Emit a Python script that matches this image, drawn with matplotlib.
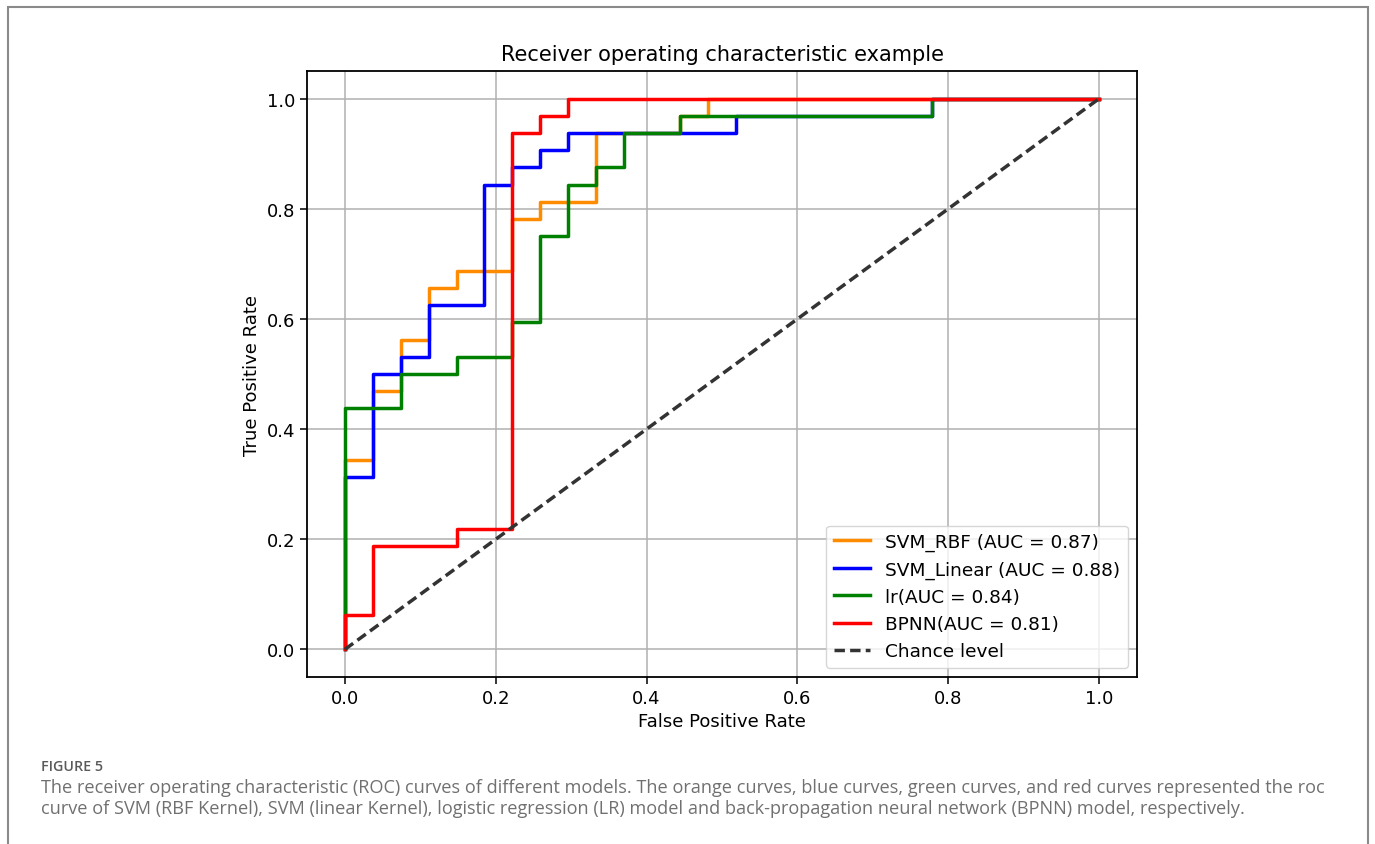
import numpy as np
import matplotlib
matplotlib.use("Agg")
import matplotlib.pyplot as plt
from matplotlib.patches import Rectangle

# ROC step points: FPR in steps of 1/27, TPR in steps of 1/32
n_neg, n_pos = 27, 32

rbf_fp = [0, 0, 1, 1, 2, 2, 3, 3, 4, 4, 6, 6, 7, 7, 9, 9, 12, 12, 13, 13, 27]
rbf_tp = [0, 11, 11, 15, 15, 18, 18, 21, 21, 22, 22, 25, 25, 26, 26, 30, 30, 31, 31, 32, 32]

lin_fp = [0, 0, 1, 1, 2, 2, 3, 3, 5, 5, 6, 6, 7, 7, 8, 8, 14, 14, 21, 21, 27]
lin_tp = [0, 10, 10, 16, 16, 17, 17, 20, 20, 27, 27, 28, 28, 29, 29, 30, 30, 31, 31, 32, 32]

lr_fp = [0, 0, 2, 2, 4, 4, 6, 6, 7, 7, 8, 8, 9, 9, 10, 10, 12, 12, 21, 21, 27]
lr_tp = [0, 14, 14, 16, 16, 17, 17, 19, 19, 24, 24, 27, 27, 28, 28, 30, 30, 31, 31, 32, 32]

bp_fp = [0, 0, 1, 1, 4, 4, 6, 6, 7, 7, 8, 8, 27]
bp_tp = [0, 2, 2, 6, 6, 7, 7, 30, 30, 31, 31, 32, 32]

models = [
    ("SVM_RBF (AUC = 0.87)", rbf_fp, rbf_tp, "darkorange"),
    ("SVM_Linear (AUC = 0.88)", lin_fp, lin_tp, "blue"),
    ("lr(AUC = 0.84)", lr_fp, lr_tp, "green"),
    ("BPNN(AUC = 0.81)", bp_fp, bp_tp, "red"),
]

fig = plt.figure(figsize=(13.75, 8.45), dpi=100)
ax = fig.add_axes([0.2233, 0.1976, 0.6036, 0.7172])

for label, fp, tp, color in models:
    ax.plot(np.array(fp) / n_neg, np.array(tp) / n_pos, color=color, lw=2.5, label=label)

ax.plot([0, 1], [0, 1], color="#333333", lw=2.5, linestyle=(0, (3.0, 1.5)), label="Chance level")

ax.set_xlim(-0.05, 1.05)
ax.set_ylim(-0.05, 1.05)
ax.set_xticks([0.0, 0.2, 0.4, 0.6, 0.8, 1.0])
ax.set_yticks([0.0, 0.2, 0.4, 0.6, 0.8, 1.0])
ax.tick_params(labelsize=13, length=5, width=1.1)
ax.grid(True, color="#b0b0b0", lw=1.1)
for s in ax.spines.values():
    s.set_linewidth(1.3)
ax.set_xlabel("False Positive Rate", fontsize=13)
ax.set_ylabel("True Positive Rate", fontsize=13)
ax.set_title("Receiver operating characteristic example", fontsize=15, pad=8)
ax.legend(loc="lower right", fontsize=13.3, handlelength=2.0)

# outer frame of the figure panel
fig.patches.append(Rectangle((8 / 1375, -0.05), 1360 / 1375, 1 - 8 / 845 + 0.05,
                             transform=fig.transFigure, fill=False,
                             edgecolor="#8a8a8a", lw=1.5))

fig.text(41 / 1375, 1 - 767 / 845, "FIGURE 5", fontsize=10.3, color="#5a5a5a",
         family="Open Sans", weight="semibold", va="center")
fig.text(41 / 1375, 1 - 788 / 845,
         "The receiver operating characteristic (ROC) curves of different models. The orange curves, "
         "blue curves, green curves, and red curves represented the roc",
         fontsize=13.1, color="#707070", family="Open Sans", va="center")
fig.text(41 / 1375, 1 - 809 / 845,
         "curve of SVM (RBF Kernel), SVM (linear Kernel), logistic regression (LR) model and "
         "back-propagation neural network (BPNN) model, respectively.",
         fontsize=13.1, color="#707070", family="Open Sans", va="center")

fig.savefig("out.png", dpi=100)
